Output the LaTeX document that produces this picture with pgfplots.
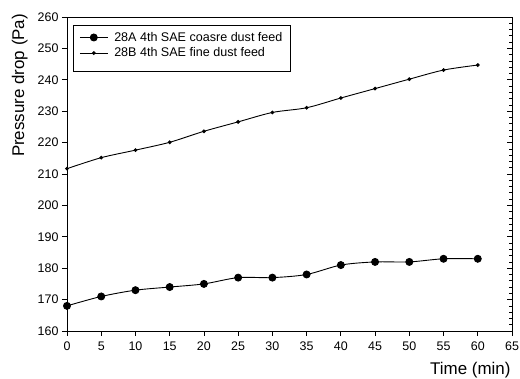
\documentclass[border=0pt]{standalone}
\usepackage{pgfplots}
\pgfplotsset{compat=1.18}
\usepackage{fontspec}
\setmainfont{Liberation Sans}
\pgfplotstableread{
t A B
0 168 211.7
5 171 215.2
10 173 217.6
15 174 220.1
20 175 223.6
25 177 226.6
30 177 229.6
35 178 231.1
40 181 234.2
45 182 237.2
50 182 240.2
55 183 243.1
60 183 244.7
}\datatable
\begin{document}
\begin{tikzpicture}
\useasboundingbox (-67bp,-48bp) rectangle (453bp,331bp);
\pgfplotsset{
  common/.style={
    at={(0,0)}, anchor=south west,
    scale only axis, width=445bp, height=314bp,
    xmin=0, xmax=65, ymin=160, ymax=260,
    axis line style={line width=0.8bp},
    every tick/.style={line width=0.7bp, black},
  }
}
% main axis
\begin{axis}[common,
  xtick={0,5,...,65}, ytick={160,170,...,260},
  xtick pos=lower, ytick pos=left,
  tick align=outside, major tick length=5bp,
  /pgf/number format/assume math mode=true,
  tick label style={font=\fontsize{12.5}{14}\selectfont},
  xticklabel style={yshift=-2bp},
  xlabel={Time (min)}, ylabel={Pressure drop (Pa)},
  label style={font=\fontsize{17}{20}\selectfont},
  xlabel style={at={(axis description cs:1.0045,-0.140)}, anchor=base east},
  ylabel style={at={(axis description cs:-0.0966,0.782)}, anchor=base},
  legend cell align=left,
  legend style={at={(axis description cs:0.0135,0.975)}, anchor=north west,
    draw=black, line width=0.7bp, inner xsep=6bp, inner ysep=5bp, row sep=1bp,
    font=\fontsize{12.6}{15}\selectfont},
  legend image code/.code={\draw[#1, mark repeat=2, mark phase=2] plot coordinates {(0bp,0bp) (14bp,0bp) (28bp,0bp)}; \path (32bp,0bp);},
]
\addplot[black, line width=0.9bp, smooth, tension=0.5, mark=*, mark size=3.5bp, mark options={solid, fill=black}] table[x=t, y=A] {\datatable};
\addlegendentry{28A 4th SAE coasre dust feed}
\addplot[black, line width=0.9bp, smooth, tension=0.5, mark=*, mark size=1.4bp, mark options={solid, fill=black}] table[x=t, y=B] {\datatable};
\addlegendentry{28B 4th SAE fine dust feed}
\addlegendimage{empty legend}
\addlegendentry{}
\end{axis}
% right axis ticks (inside)
\begin{axis}[common,
  xtick=\empty, ytick={160,170,...,260}, yticklabels={},
  ytick pos=right, tick align=inside,
  minor y tick num=4, major tick length=5bp, minor tick length=3bp,
]
\end{axis}
% left minor ticks (inside)
\begin{axis}[common,
  xtick=\empty, ytick=\empty, minor ytick={162,164,...,258},
  ytick pos=left, tick align=inside, minor tick length=3.3bp,
]
\end{axis}
\end{tikzpicture}
\end{document}
